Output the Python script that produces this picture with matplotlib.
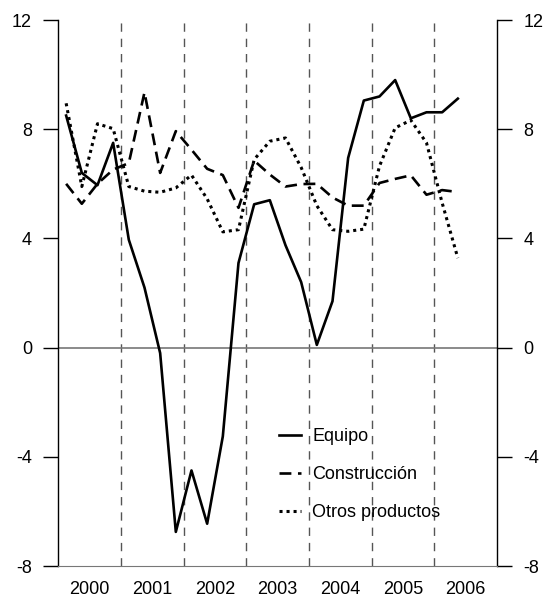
import numpy as np
import matplotlib
matplotlib.use("Agg")
import matplotlib.pyplot as plt

plt.rcParams['font.family'] = ['Liberation Sans', 'DejaVu Sans']
plt.rcParams['font.size'] = 13

# quarterly data 2000Q1 - 2006Q2
years = [2000, 2001, 2002, 2003, 2004, 2005, 2006]
equipo = [8.5, 6.4, 5.95, 7.5,
          3.95, 2.2, -0.2, -6.75,
          -4.5, -6.45, -3.25, 3.1,
          5.25, 5.4, 3.75, 2.4,
          0.1, 1.7, 6.95, 9.05,
          9.2, 9.8, 8.4, 8.62,
          8.62, 9.12]
construccion = [6.0, 5.27, 6.0, 6.52,
                6.76, 9.35, 6.4, 7.93,
                7.25, 6.55, 6.32, 5.12,
                6.85, 6.34, 5.9, 5.99,
                6.0, 5.5, 5.2, 5.2,
                6.03, 6.18, 6.31, 5.6,
                5.77, 5.7]
otros = [8.95, 5.9, 8.2, 8.02,
         5.9, 5.73, 5.69, 5.85,
         6.32, 5.45, 4.24, 4.32,
         6.89, 7.56, 7.68, 6.6,
         5.2, 4.32, 4.26, 4.34,
         6.65, 8.05, 8.33, 7.5,
         5.3, 3.28]
yticks = [-8, -4, 0, 4, 8, 12]

x = 2000 + (np.arange(len(equipo)) + 0.5) / 4

fig = plt.figure(figsize=(5.47, 6.01), dpi=100)
ax = fig.add_axes([0.1066, 0.0582, 0.802, 0.9085])
ax.set_xlim(2000, 2007)
ax.set_ylim(-8, 12)

# year separators and zero line
for b in years[1:]:
    ax.axvline(b, color="#555555", lw=1.0, dashes=(6, 5), zorder=1)
ax.axhline(0, color="#777777", lw=1.2, zorder=1)

ax.plot(x, equipo, color="black", lw=1.9, label="Equipo")
ax.plot(x, construccion, color="black", lw=1.9, dashes=(4.5, 2.5), label="Construcción")
ax.plot(x, otros, color="black", lw=2.2, dashes=(1, 1.3), label="Otros productos")

ax.spines['top'].set_visible(False)
ax.spines['bottom'].set_color("#777777")
ax.spines['left'].set_linewidth(1.0)
ax.spines['right'].set_linewidth(1.0)

ax.set_yticks(yticks)
ax.set_yticklabels([str(v) for v in yticks])
ax.tick_params(axis='y', direction='out', length=11, width=1.0, pad=8,
               left=True, right=True, labelleft=True, labelright=True)
ax.set_xticks([y + 0.5 for y in years])
ax.set_xticklabels([str(y) for y in years])
ax.tick_params(axis='x', length=0, pad=11)

ax.legend(loc="upper left", bbox_to_anchor=(0.486, 0.266), frameon=False,
          handlelength=1.25, handletextpad=0.6, labelspacing=1.17,
          borderaxespad=0, fontsize=13)

fig.savefig("out.png", dpi=100)
